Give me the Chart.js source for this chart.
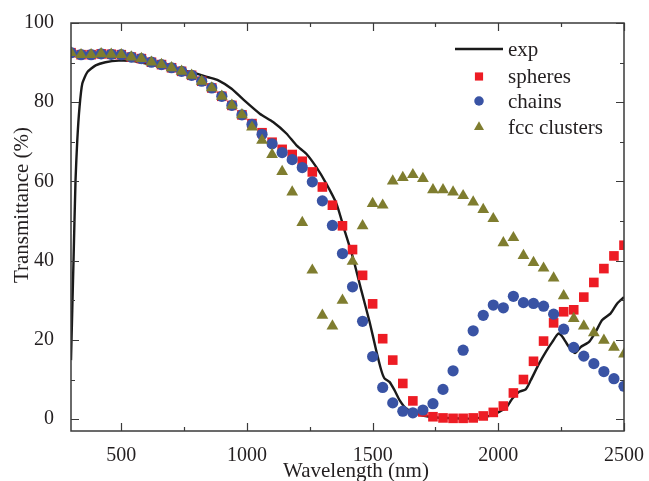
<!DOCTYPE html>
<html>
<head>
<meta charset="utf-8">
<script src="https://cdn.jsdelivr.net/npm/chart.js@4.4.0/dist/chart.umd.min.js"></script>
<style>
html, body { margin: 0; padding: 0; background: #fff; }
canvas { display: block; }
</style>
</head>
<body>
<canvas id="chart" width="649" height="481"></canvas>
<script>
// wavelengths of the simulated points (nm)
const simX = [300, 340, 380, 420, 460, 500, 540, 580, 620, 660, 700, 740, 780, 820, 860, 900, 940, 980,
	1020, 1060, 1100, 1140, 1180, 1220, 1260, 1300, 1340, 1380, 1420, 1460, 1500, 1540, 1580, 1620, 1660, 1700,
	1740, 1780, 1820, 1860, 1900, 1940, 1980, 2020, 2060, 2100, 2140, 2180, 2220, 2260, 2300, 2340, 2380, 2420,
	2460, 2500];

// the three models overlap below ~1000 nm
const spheres = [92.5, 92.0, 92.0, 92.2, 92.1, 92.0, 91.4, 91.0, 90.1, 89.5, 88.7, 87.8, 86.8, 85.3, 83.6, 81.5, 79.2, 76.8,
	74.6, 72.3, 69.9, 68.1, 66.8, 65.1, 62.4, 58.6, 54.0, 48.8, 42.8, 36.3, 29.1, 20.3, 14.9, 9.0, 4.6, 1.8,
	0.6, 0.3, 0.2, 0.2, 0.3, 0.8, 1.7, 3.3, 6.6, 10.0, 14.6, 19.7, 24.3, 27.1, 27.6, 30.8, 34.5, 38.0, 41.2, 43.9];
const chains = [92.5, 92.0, 92.0, 92.2, 92.1, 92.0, 91.4, 91.0, 90.1, 89.5, 88.7, 87.8, 86.8, 85.3, 83.6, 81.5, 79.2, 76.8,
	74.4, 71.9, 69.5, 67.3, 65.5, 63.5, 59.9, 55.1, 48.9, 41.8, 33.4, 24.7, 15.8, 8.0, 4.1, 2.0, 1.6, 2.3,
	3.9, 7.5, 12.2, 17.4, 22.3, 26.2, 28.8, 28.1, 31.0, 29.4, 29.2, 28.5, 26.5, 22.7, 18.1, 15.9, 14.0, 12.0, 10.2, 8.3];
const fccClusters = [92.5, 92.0, 92.0, 92.2, 92.1, 92.0, 91.4, 91.0, 90.1, 89.5, 88.7, 87.8, 86.8, 85.3, 83.6, 81.5, 79.2, 76.8,
	73.7, 70.4, 66.8, 62.5, 57.3, 49.6, 37.6, 26.2, 23.5, 30.0, 39.8, 48.8, 54.4, 54.0, 60.1, 61.0, 61.7, 60.7,
	57.9, 57.9, 57.3, 56.4, 54.8, 52.9, 50.6, 44.5, 45.8, 41.3, 39.5, 38.1, 35.6, 31.1, 25.4, 23.5, 21.8, 19.9, 18.1, 16.4];

// measured spectrum
const expX = [300, 310, 318, 325, 334, 345, 365, 398, 437, 490, 547, 621, 701, 780, 846, 886, 939, 985,
	1051, 1104, 1157, 1197, 1236, 1276, 1316, 1356, 1388, 1421, 1455, 1488, 1514, 1534, 1547, 1567, 1587, 1607,
	1633, 1673, 1726, 1818, 1911, 1977, 2017, 2030, 2056, 2083, 2109, 2129, 2162, 2189, 2215, 2239, 2255, 2281,
	2305, 2328, 2361, 2387, 2413, 2447, 2473, 2500];
const expY = [14.9, 40.0, 60.3, 70.4, 78.8, 84.7, 87.6, 89.3, 90.1, 90.5, 90.4, 89.5, 88.6, 87.6, 86.3, 85.5, 83.4, 80.7,
	77.1, 75.0, 72.1, 69.1, 67.0, 63.6, 59.4, 54.4, 47.7, 40.9, 32.5, 24.5, 17.4, 12.4, 10.3, 9.4, 7.3, 4.8,
	2.7, 1.4, 0.6, 0.2, 0.2, 1.0, 2.3, 2.7, 5.2, 6.9, 7.5, 9.8, 14.0, 17.0, 19.5, 21.6, 20.8, 18.2,
	16.7, 18.2, 19.5, 22.0, 25.0, 26.7, 29.2, 30.8];

const xTicks = [500, 1000, 1500, 2000, 2500];
const xMinor = [750, 1250, 1750, 2250];
const yTicks = [0, 20, 40, 60, 80, 100];
const yMinor = [10, 30, 50, 70, 90];

const SERIF = "'Liberation Serif', 'Times New Roman', serif";
const INK = "#231f20";

const pairs = (xs, ys) => xs.map((x, i) => ({ x: x, y: ys[i] }));

// frame with inward ticks on all four sides, legend and axis titles
const framePlugin = {
	id: "frame",
	afterDraw(chart) {
		const ctx = chart.ctx;
		const a = chart.chartArea;
		const xs = chart.scales.x;
		const ys = chart.scales.y;
		ctx.save();
		ctx.strokeStyle = "#3a3a3a";
		ctx.lineWidth = 1.5;
		ctx.strokeRect(a.left, a.top, a.right - a.left, a.bottom - a.top);

		ctx.lineWidth = 1.2;
		ctx.beginPath();
		const xTick = (v, len) => {
			const p = Math.round(xs.getPixelForValue(v)) + 0.5;
			ctx.moveTo(p, a.bottom); ctx.lineTo(p, a.bottom - len);
			ctx.moveTo(p, a.top); ctx.lineTo(p, a.top + len);
		};
		const yTick = (v, len) => {
			const p = Math.round(ys.getPixelForValue(v)) + 0.5;
			ctx.moveTo(a.left, p); ctx.lineTo(a.left + len, p);
			ctx.moveTo(a.right, p); ctx.lineTo(a.right - len, p);
		};
		xTicks.forEach((v) => xTick(v, 8));
		xMinor.forEach((v) => xTick(v, 4));
		yTicks.forEach((v) => yTick(v, 8));
		yMinor.forEach((v) => yTick(v, 4));
		ctx.stroke();

		// legend
		ctx.font = "21px " + SERIF;
		ctx.fillStyle = INK;
		ctx.textBaseline = "middle";
		ctx.textAlign = "left";
		const rows = [49, 76.5, 101, 127];
		chart.data.datasets.forEach((ds, i) => {
			const y = rows[i];
			if (ds.showLine) {
				ctx.strokeStyle = ds.borderColor;
				ctx.lineWidth = ds.borderWidth;
				ctx.beginPath();
				ctx.moveTo(455, y);
				ctx.lineTo(503, y);
				ctx.stroke();
			} else {
				ctx.fillStyle = ds.backgroundColor;
				Chart.helpers.drawPoint(ctx, {
					pointStyle: ds.pointStyle,
					radius: ds.pointRadius * 0.85,
					rotation: 0,
					borderWidth: 0,
				}, 479, y);
			}
			ctx.fillStyle = INK;
			ctx.fillText(ds.label, 508, y + 1);
		});

		// axis titles
		ctx.font = "21px " + SERIF;
		ctx.textAlign = "center";
		ctx.textBaseline = "alphabetic";
		ctx.fillText("Wavelength (nm)", 356, 477);
		ctx.translate(28, 205);
		ctx.rotate(-Math.PI / 2);
		ctx.fillText("Transmittance (%)", 0, 0);
		ctx.restore();
	},
};

new Chart(document.getElementById("chart"), {
	type: "scatter",
	data: {
		datasets: [
			{
				label: "exp",
				data: pairs(expX, expY),
				showLine: true,
				borderColor: "#1a1a1a",
				backgroundColor: "#1a1a1a",
				borderWidth: 2.4,
				pointRadius: 0,
				tension: 0.2,
				clip: 0,
				order: 3,
			},
			{
				label: "spheres",
				data: pairs(simX, spheres),
				pointStyle: "rect",
				pointRadius: 6.8,
				backgroundColor: "#ed1c24",
				borderWidth: 0,
				clip: 0,
				order: 2,
			},
			{
				label: "chains",
				data: pairs(simX, chains),
				pointStyle: "circle",
				pointRadius: 5.6,
				backgroundColor: "#3953a4",
				borderWidth: 0,
				clip: 0,
				order: 1,
			},
			{
				label: "fcc clusters",
				data: pairs(simX, fccClusters),
				pointStyle: "triangle",
				pointRadius: 6.8,
				backgroundColor: "#7f7d2f",
				borderWidth: 0,
				clip: 0,
				order: 0,
			},
		],
	},
	options: {
		responsive: false,
		animation: false,
		events: [],
		layout: {
			padding: { left: 0, top: 23, right: 22, bottom: 0 },
		},
		plugins: {
			legend: { display: false },
			tooltip: { enabled: false },
		},
		scales: {
			x: {
				type: "linear",
				min: 300,
				max: 2500,
				grid: { display: false },
				border: { display: false },
				afterBuildTicks: (s) => { s.ticks = xTicks.map((v) => ({ value: v })); },
				afterFit: (s) => { s.height = 50; },
				ticks: {
					padding: 5,
					color: INK,
					font: { family: SERIF, size: 20 },
					callback: (v) => String(v),
				},
			},
			y: {
				type: "linear",
				min: -3,
				max: 100,
				grid: { display: false },
				border: { display: false },
				afterBuildTicks: (s) => { s.ticks = yTicks.map((v) => ({ value: v })); },
				afterFit: (s) => { s.width = 71; },
				ticks: {
					padding: 9,
					color: INK,
					font: { family: SERIF, size: 20 },
					callback: (v) => String(v),
				},
			},
		},
	},
	plugins: [framePlugin],
});
</script>
</body>
</html>
